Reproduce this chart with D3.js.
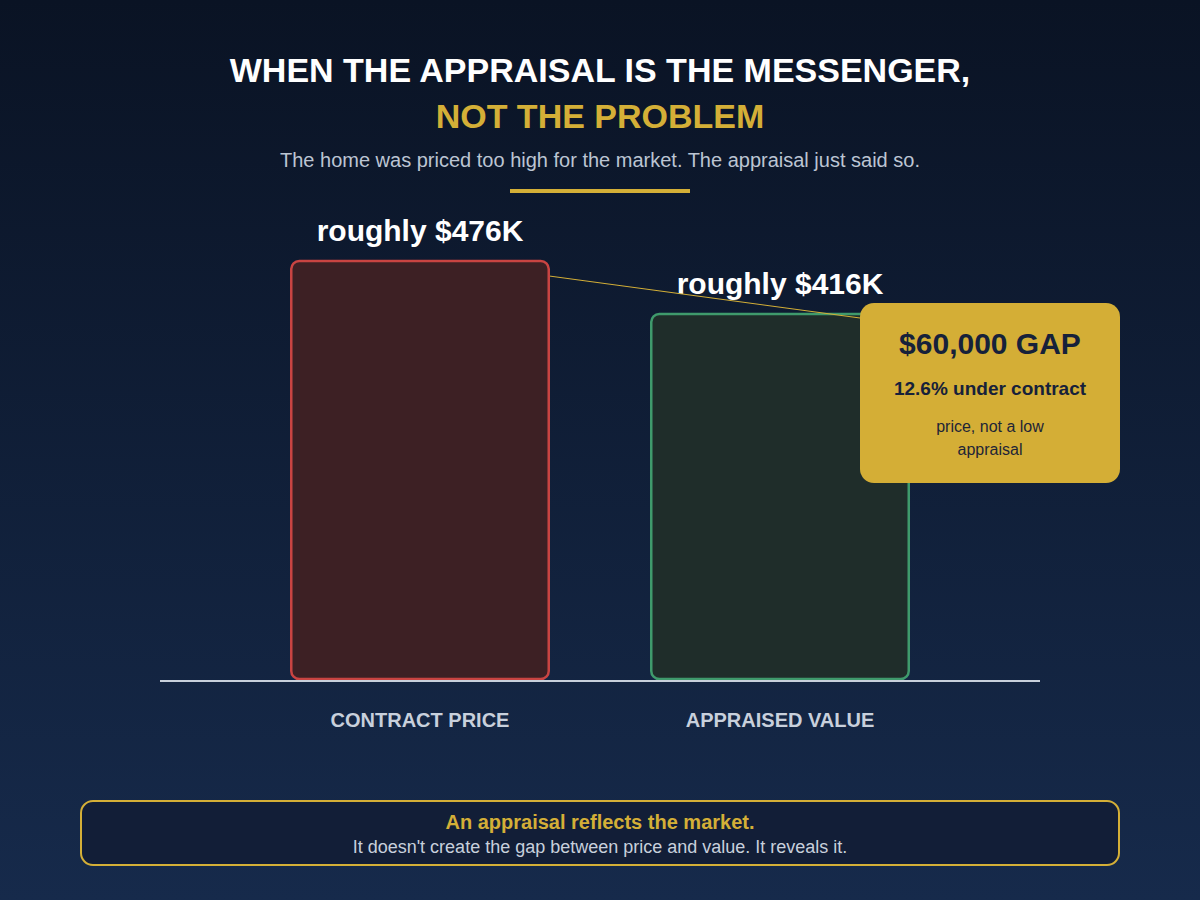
<!DOCTYPE html>
<html>
<head>
<meta charset="utf-8">
<script src="https://cdn.jsdelivr.net/npm/d3@7"></script>
<style>
  html, body { margin: 0; padding: 0; background: #0b1426; }
  svg { display: block; font-family: "Liberation Sans", Arial, sans-serif; }
</style>
</head>
<body>
<svg id="chart" width="1200" height="900"></svg>
<script>
// data
var categories = ["CONTRACT PRICE", "APPRAISED VALUE"];
var values = [476, 416];            // $K
var valueLabels = ["roughly $476K", "roughly $416K"];
var gapLines = ["$60,000 GAP", "12.6% under contract", "price, not a low", "appraisal"];

var svg = d3.select("#chart");
var W = 1200, H = 900;

/* background */
var defs = svg.append("defs");
var bg = defs.append("linearGradient").attr("id", "bg")
  .attr("x1", 0).attr("y1", 0).attr("x2", 0).attr("y2", 1);
bg.append("stop").attr("offset", "0%").attr("stop-color", "#0a1324");
bg.append("stop").attr("offset", "100%").attr("stop-color", "#162a4b");
svg.append("rect").attr("width", W).attr("height", H).attr("fill", "url(#bg)");

/* header */
svg.append("text").attr("x", 600).attr("y", 82).attr("text-anchor", "middle")
  .attr("font-size", 34).attr("font-weight", "bold").attr("fill", "#ffffff")
  .text("WHEN THE APPRAISAL IS THE MESSENGER,");
svg.append("text").attr("x", 600).attr("y", 128).attr("text-anchor", "middle")
  .attr("font-size", 34).attr("font-weight", "bold").attr("fill", "#d4af37")
  .text("NOT THE PROBLEM");
svg.append("text").attr("x", 600).attr("y", 167).attr("text-anchor", "middle")
  .attr("font-size", 20).attr("fill", "#bcc5d3")
  .text("The home was priced too high for the market. The appraisal just said so.");
svg.append("rect").attr("x", 510).attr("y", 189).attr("width", 180).attr("height", 4)
  .attr("fill", "#d4af37");

/* scales */
var x = d3.scaleBand().domain(categories).range([290, 910]).paddingInner(100 / 360);
var y = d3.scaleLinear().domain([0, 500]).range([680, 240]);

var fills = ["#3d2024", "#1f2d2a"];
var strokes = ["#c94442", "#3f9a6c"];

var g = svg.append("g");

g.selectAll("rect.bar").data(values).enter().append("rect")
  .attr("class", "bar")
  .attr("x", function(d, i) { return x(categories[i]) + 1.25; })
  .attr("y", function(d) { return y(d); })
  .attr("width", x.bandwidth() - 2.5)
  .attr("height", function(d) { return y(0) - y(d) - 1; })
  .attr("rx", 8)
  .attr("fill", function(d, i) { return fills[i]; })
  .attr("stroke", function(d, i) { return strokes[i]; })
  .attr("stroke-width", 2.5);

/* baseline */
g.append("line").attr("x1", 160).attr("x2", 1040)
  .attr("y1", y(0) + 1).attr("y2", y(0) + 1)
  .attr("stroke", "#c8d0dc").attr("stroke-width", 2);

/* value labels */
g.selectAll("text.val").data(values).enter().append("text")
  .attr("class", "val")
  .attr("x", function(d, i) { return x(categories[i]) + x.bandwidth() / 2; })
  .attr("y", function(d) { return y(d) - 20; })
  .attr("text-anchor", "middle")
  .attr("font-size", 30).attr("font-weight", "bold").attr("fill", "#ffffff")
  .text(function(d, i) { return valueLabels[i]; });

/* category labels */
g.selectAll("text.cat").data(categories).enter().append("text")
  .attr("class", "cat")
  .attr("x", function(d) { return x(d) + x.bandwidth() / 2; })
  .attr("y", 727)
  .attr("text-anchor", "middle")
  .attr("font-size", 20).attr("font-weight", "bold").attr("fill", "#c8d0dc")
  .text(function(d) { return d; });

/* connector to callout */
var box = { x: 860, y: 303, w: 260, h: 180 };
g.append("line")
  .attr("x1", x(categories[0]) + x.bandwidth()).attr("y1", y(values[0]) + 15)
  .attr("x2", box.x).attr("y2", box.y + 15)
  .attr("stroke", "#d4af37").attr("stroke-width", 1);

/* gap callout */
var cg = svg.append("g");
cg.append("rect").attr("x", box.x).attr("y", box.y).attr("width", box.w).attr("height", box.h)
  .attr("rx", 14).attr("fill", "#d4ae36");
var cx = box.x + box.w / 2;
cg.append("text").attr("x", cx).attr("y", 354).attr("text-anchor", "middle")
  .attr("font-size", 30).attr("font-weight", "bold").attr("fill", "#16213a")
  .text(gapLines[0]);
cg.append("text").attr("x", cx).attr("y", 395).attr("text-anchor", "middle")
  .attr("font-size", 19).attr("font-weight", "bold").attr("fill", "#16213a")
  .text(gapLines[1]);
cg.append("text").attr("x", cx).attr("y", 432).attr("text-anchor", "middle")
  .attr("font-size", 16).attr("fill", "#1e2536")
  .text(gapLines[2]);
cg.append("text").attr("x", cx).attr("y", 455).attr("text-anchor", "middle")
  .attr("font-size", 16).attr("fill", "#1e2536")
  .text(gapLines[3]);

/* bottom note */
var ng = svg.append("g");
ng.append("rect").attr("x", 81).attr("y", 801).attr("width", 1038).attr("height", 64)
  .attr("rx", 12).attr("fill", "#121e37").attr("stroke", "#d4af37").attr("stroke-width", 2);
ng.append("text").attr("x", 600).attr("y", 829).attr("text-anchor", "middle")
  .attr("font-size", 20).attr("font-weight", "bold").attr("fill", "#d4af37")
  .text("An appraisal reflects the market.");
ng.append("text").attr("x", 600).attr("y", 853).attr("text-anchor", "middle")
  .attr("font-size", 18).attr("fill", "#c8d0dc")
  .text("It doesn't create the gap between price and value. It reveals it.");
</script>
</body>
</html>
